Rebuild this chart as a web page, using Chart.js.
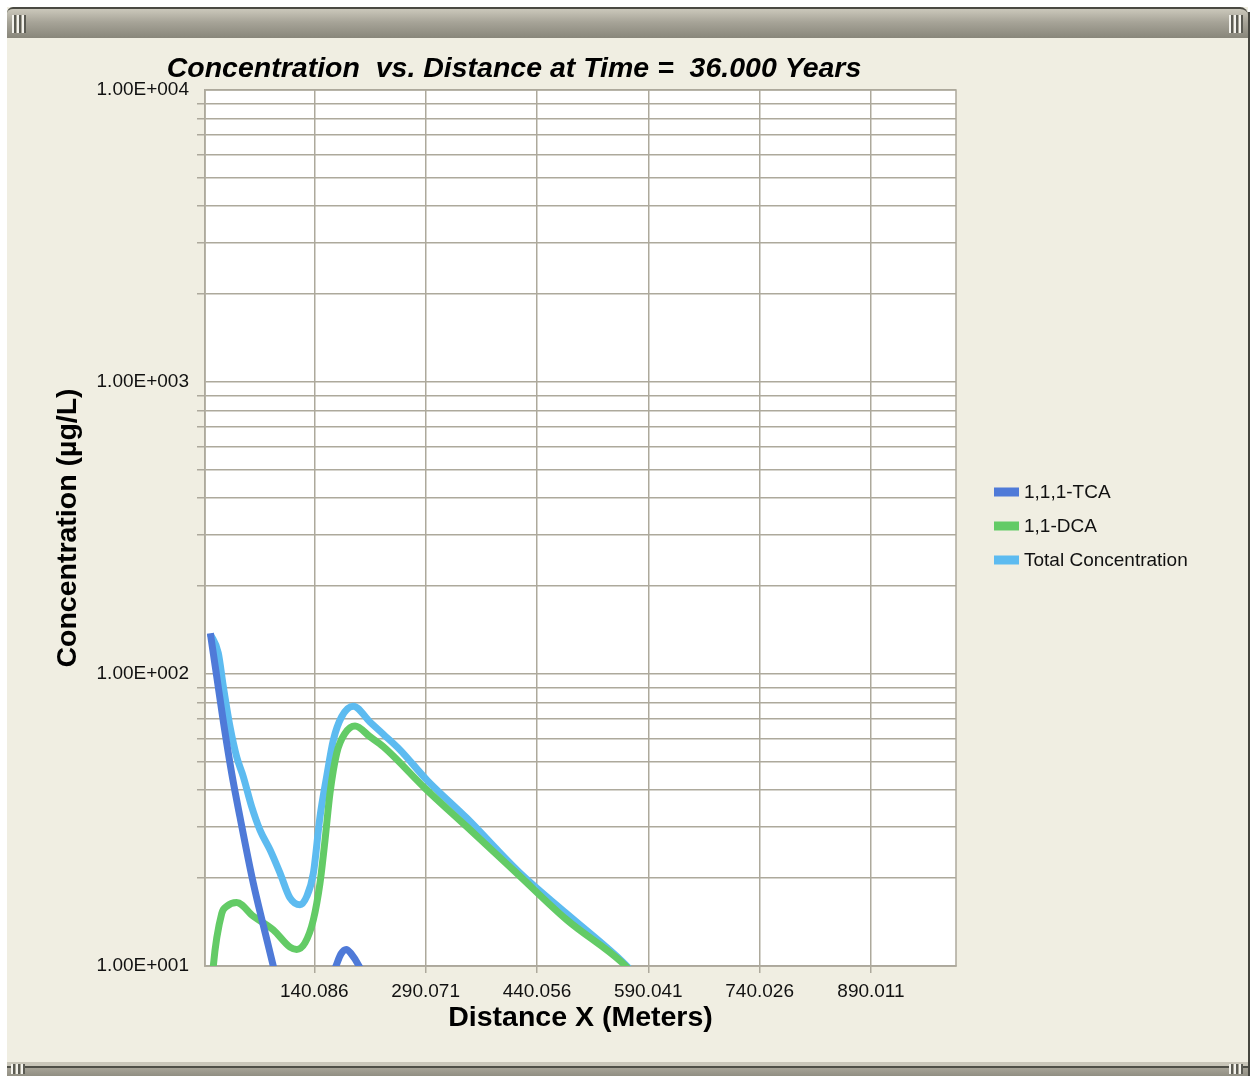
<!DOCTYPE html>
<html>
<head>
<meta charset="utf-8">
<script src="https://cdn.jsdelivr.net/npm/chart.js@4.4.1/dist/chart.umd.min.js"></script>
<style>
  html, body { margin: 0; padding: 0; background: #ffffff; }
  #wrap { position: relative; width: 1253px; height: 1080px; overflow: hidden; }
  .win { position: absolute; left: 7px; top: 7px; width: 1241px; height: 1068px; background: #F0EEE2; }
  .shadowR { position: absolute; left: 1248px; top: 12px; width: 2px; height: 1064px; background: #46463F; }
  .bar { position: absolute; left: 7px; top: 7px; width: 1241px; height: 31px;
         border-top: 2px solid #4A4A42; box-sizing: border-box; border-radius: 6px 8px 0 0;
         background: linear-gradient(#CBC8BB, #A7A498 45%, #88867A); }
  .bottom { position: absolute; left: 7px; top: 1062px; width: 1241px; height: 14px;
            background: linear-gradient(#C9C6B9 0, #C9C6B9 4px, #4F4F47 4px, #4F4F47 6px, #A6A397 6px, #918F83 14px); }
  .grip { position: absolute; width: 14px; height: 18px;
          background: repeating-linear-gradient(90deg, #F3F2EC 0, #F3F2EC 2px, #5B5B53 2px, #5B5B53 4px, #A8A598 4px, #A8A598 5px); }
  .gripS { position: absolute; width: 14px; height: 10px;
          background: repeating-linear-gradient(90deg, #F3F2EC 0, #F3F2EC 2px, #5B5B53 2px, #5B5B53 4px, #A8A598 4px, #A8A598 5px); }
  canvas { position: absolute; left: 0; top: 0; }
</style>
</head>
<body>
<div id="wrap">
  <div class="win"></div>
  <div class="shadowR"></div>
  <div class="bar"></div>
  <div class="grip" style="left:12px; top:15px;"></div>
  <div class="grip" style="left:1229px; top:15px;"></div>
  <div class="bottom"></div>
  <div class="gripS" style="left:11px; top:1064px;"></div>
  <div class="gripS" style="left:1229px; top:1064px;"></div>
  <canvas id="chart" width="1253" height="1080"></canvas>
</div>
<script>
// Distance (m) and concentration (µg/L) for each constituent
const distTCA = [0, 8.6, 17.8, 28.8, 39.9, 57.9, 71.3, 84.8, 100, 120, 140, 155, 169.3, 176, 183, 190, 200.3, 210, 230];
const concTCA = [138, 98, 68, 45.7, 32.4, 19.2, 13.8, 10, 6.8, 5, 6, 8, 10, 11, 11.4, 11, 10, 8.8, 6];

const distDCA = [0, 4, 15.3, 22, 35.5, 57.9, 84.8, 107.3, 116.3, 127.5, 138.8, 147.7, 154.5, 161.2, 170.2, 181.4, 194.9, 215, 233, 291.5, 345.4, 412.7, 480.1, 554.2, 580];
const concDCA = [7, 10, 15.1, 16.0, 16.5, 14.8, 13.3, 11.6, 11.4, 12.0, 14.4, 19.2, 27, 39.1, 53.5, 62.6, 66.4, 61, 56.4, 40.1, 30.0, 20.8, 14.4, 10.3, 8.8];

const distTotal = [0, 10.7, 17.5, 26.5, 35.5, 44.4, 55.7, 66.9, 80.4, 93.9, 107.3, 120.8, 129.8, 138.8, 147.7, 156.7, 165.7, 176.9, 192.6, 215, 233, 255.5, 291.5, 345.4, 417.2, 480.1, 554.2, 580];
const concTotal = [137, 118, 90.5, 66, 52, 44.5, 35.1, 29.2, 25, 20.8, 17.1, 16.2, 17.3, 20.8, 32.4, 44.5, 59.4, 71.4, 77.6, 68.5, 62.2, 55, 43.4, 32.1, 20.8, 15.1, 10.4, 8.9];

const seriesNames = ['1,1,1-TCA', '1,1-DCA', 'Total Concentration'];
const seriesColors = ['#4F7AD8', '#63CB66', '#5DBBF0'];

// Axis ticks
const xTickValues = [140.086, 290.071, 440.056, 590.041, 740.026, 890.011];
const yDecades = [10, 100, 1000, 10000];

const FONT = '"Liberation Sans", Arial, Helvetica, sans-serif';
const GRID = '#ADA99C';

function pts(xs, ys) { return xs.map((x, i) => ({ x: x, y: ys[i] })); }

function isDecade(v) {
  const l = Math.log10(v);
  return Math.abs(l - Math.round(l)) < 1e-9;
}
function sciLabel(v) {
  const e = Math.round(Math.log10(v));
  const m = (v / Math.pow(10, e)).toFixed(2);
  const sign = e < 0 ? '-' : '+';
  return m + 'E' + sign + String(Math.abs(e)).padStart(3, '0');
}

// Plot background and frame
const plotFrame = {
  id: 'plotFrame',
  beforeDraw(chart) {
    const a = chart.chartArea, ctx = chart.ctx;
    ctx.save();
    ctx.fillStyle = '#ffffff';
    ctx.fillRect(a.left, a.top, a.right - a.left, a.bottom - a.top);
    ctx.restore();
  },
  beforeDatasetsDraw(chart) {
    const a = chart.chartArea, ctx = chart.ctx;
    ctx.save();
    ctx.strokeStyle = GRID;
    ctx.lineWidth = 1.5;
    ctx.strokeRect(a.left, a.top, a.right - a.left, a.bottom - a.top);
    ctx.restore();
  }
};

// Heading and series key
const annotations = {
  id: 'annotations',
  afterDraw(chart) {
    const ctx = chart.ctx;
    ctx.save();
    ctx.fillStyle = '#000000';
    ctx.font = 'italic bold 28.5px ' + FONT;
    ctx.textAlign = 'center';
    ctx.textBaseline = 'middle';
    ctx.fillText('Concentration  vs. Distance at Time =  36.000 Years', 514, 69);

    ctx.font = '19px ' + FONT;
    ctx.textAlign = 'left';
    chart.data.datasets.forEach((ds, i) => {
      const y = 492 + i * 34;
      ctx.fillStyle = ds.borderColor;
      ctx.fillRect(994, y - 4.5, 25, 9);
      ctx.fillStyle = '#111111';
      ctx.fillText(ds.label, 1024, y + 1);
    });
    ctx.restore();
  }
};

new Chart(document.getElementById('chart'), {
  type: 'line',
  data: {
    datasets: [
      { label: seriesNames[0], data: pts(distTCA, concTCA), borderColor: seriesColors[0] },
      { label: seriesNames[1], data: pts(distDCA, concDCA), borderColor: seriesColors[1] },
      { label: seriesNames[2], data: pts(distTotal, concTotal), borderColor: seriesColors[2] }
    ]
  },
  options: {
    responsive: false,
    animation: false,
    devicePixelRatio: 1,
    layout: { padding: { top: 90, right: 297, bottom: 40, left: 0 } },
    elements: {
      line: { borderWidth: 7, cubicInterpolationMode: 'monotone', fill: false, borderCapStyle: 'butt' },
      point: { radius: 0, hoverRadius: 0 }
    },
    plugins: {
      legend: { display: false },
      title: { display: false },
      tooltip: { enabled: false }
    },
    scales: {
      x: {
        type: 'linear',
        min: -7.2,
        max: 1004.6,
        bounds: 'data',
        afterBuildTicks(scale) { scale.ticks = xTickValues.map(v => ({ value: v })); },
        afterFit(scale) { scale.height = 74; },
        ticks: {
          autoSkip: false,
          maxRotation: 0,
          padding: 7,
          color: '#111111',
          font: { family: FONT, size: 19 },
          callback: v => Number(v).toFixed(3)
        },
        grid: { color: GRID, lineWidth: 1.5, tickLength: 7, tickColor: GRID },
        border: { display: true, color: GRID, width: 1.5 },
        title: {
          display: true,
          text: 'Distance X (Meters)',
          color: '#000000',
          font: { family: FONT, size: 28.5, weight: 'bold' },
          padding: { top: 0, bottom: 5 }
        }
      },
      y: {
        type: 'logarithmic',
        min: 10,
        max: 10000,
        afterBuildTicks(scale) {
          const t = [];
          yDecades.forEach((d, i) => {
            if (i === yDecades.length - 1) { t.push({ value: d }); return; }
            for (let k = 1; k <= 9; k++) t.push({ value: d * k });
          });
          scale.ticks = t;
        },
        afterFit(scale) { scale.width = 205; },
        ticks: {
          autoSkip: false,
          padding: 8,
          color: '#111111',
          font: { family: FONT, size: 19 },
          callback: v => isDecade(v) ? sciLabel(v) : ''
        },
        grid: {
          color: GRID,
          lineWidth: 1.5,
          tickLength: 8,
          tickColor: ctx => (ctx.tick && isDecade(ctx.tick.value)) ? 'rgba(0,0,0,0)' : GRID
        },
        border: { display: true, color: GRID, width: 1.5 },
        title: {
          display: true,
          text: 'Concentration (µg/L)',
          color: '#000000',
          font: { family: FONT, size: 28.5, weight: 'bold' },
          padding: { top: 51.5, bottom: 0 }
        }
      }
    }
  },
  plugins: [plotFrame, annotations]
});
</script>
</body>
</html>
